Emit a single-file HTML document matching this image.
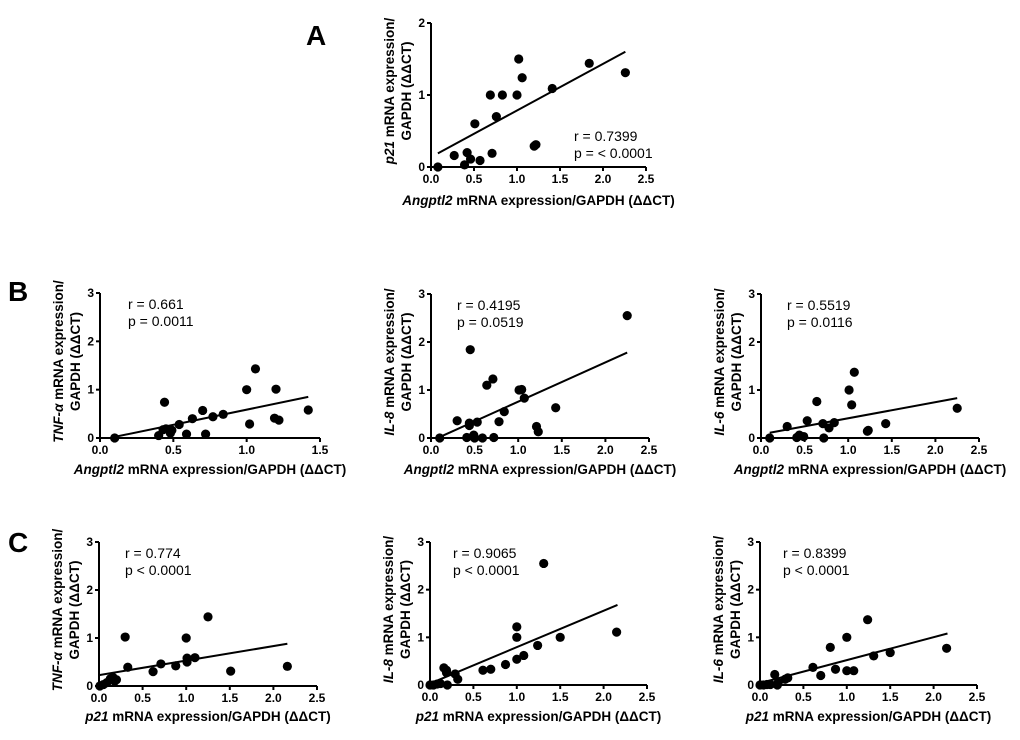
<!DOCTYPE html>
<html><head><meta charset="utf-8"><style>
body{margin:0;background:#fff;}
svg{display:block;font-family:"Liberation Sans",sans-serif;}
.tick{font-weight:bold;font-size:12px;}
.lbl{font-weight:bold;font-size:13.5px;}
.stat{font-size:14px;}
.letter{font-weight:bold;font-size:28px;}
</style></head><body>
<svg id="fig" width="1020" height="740" viewBox="0 0 1020 740">
<text class="letter" x="306" y="45">A</text>
<text class="letter" x="8" y="301">B</text>
<text class="letter" x="8" y="552">C</text>
</svg>
<script>
// Panel A: p21 vs Angptl2
const aX=[0.08,0.27,0.39,0.42,0.46,0.51,0.57,0.69,0.71,0.76,0.83,1.0,1.02,1.06,1.2,1.22,1.41,1.84,2.26];
const aY=[0,0.16,0.03,0.2,0.11,0.6,0.09,1.0,0.19,0.7,1.0,1.0,1.5,1.24,0.29,0.31,1.09,1.44,1.31];
const aFit=[[0.08,0.19],[2.26,1.6]];
// Panel B1: TNF-a vs Angptl2
const b1X=[0.1,0.4,0.44,0.43,0.45,0.48,0.49,0.54,0.59,0.63,0.7,0.72,0.77,0.84,1.0,1.02,1.06,1.2,1.19,1.22,1.42];
const b1Y=[0,0.05,0.74,0.17,0.19,0.1,0.16,0.28,0.08,0.4,0.57,0.08,0.44,0.49,1.0,0.29,1.43,1.01,0.41,0.37,0.58];
const b1Fit=[[0.08,0.01],[1.42,0.85]];
// Panel B2: IL-8 vs Angptl2
const b2X=[0.1,0.3,0.41,0.44,0.44,0.45,0.49,0.5,0.53,0.59,0.64,0.71,0.72,0.78,0.84,1.01,1.04,1.07,1.21,1.23,1.43,2.25];
const b2Y=[0,0.36,0.01,0.26,0.31,1.84,0.06,0,0.33,0,1.1,1.23,0.01,0.34,0.55,1.0,1.01,0.83,0.24,0.13,0.63,2.55];
const b2Fit=[[0.1,0.02],[2.25,1.78]];
// Panel B3: IL-6 vs Angptl2
const b3X=[0.1,0.3,0.41,0.44,0.49,0.53,0.64,0.71,0.72,0.78,0.84,1.01,1.04,1.07,1.22,1.23,1.43,2.25];
const b3Y=[0,0.24,0.01,0.06,0.03,0.36,0.76,0.3,0,0.21,0.32,1.0,0.69,1.37,0.14,0.16,0.3,0.62];
const b3Fit=[[0.1,0.11],[2.25,0.83]];
// Panel C1: TNF-a vs p21
const c1X=[0.01,0.05,0.09,0.13,0.16,0.2,0.18,0.3,0.33,0.62,0.71,0.88,1.0,1.01,1.01,1.1,1.25,1.51,2.16];
const c1Y=[0,0.03,0.07,0.15,0.18,0.13,0.1,1.02,0.39,0.3,0.46,0.42,1.0,0.58,0.5,0.59,1.44,0.31,0.41];
const c1Fit=[[0.01,0.23],[2.16,0.88]];
// Panel C2: IL-8 vs p21
const c2X=[0,0.04,0.08,0.12,0.16,0.19,0.2,0.19,0.29,0.32,0.61,0.7,0.87,1.0,1.0,1.0,1.08,1.24,1.31,1.5,2.15];
const c2Y=[0,0,0.02,0.03,0.36,0.31,0,0.26,0.23,0.12,0.31,0.33,0.43,1.22,1.0,0.54,0.62,0.83,2.55,1.0,1.11];
const c2Fit=[[0,0.03],[2.16,1.68]];
// Panel C3: IL-6 vs p21
const c3X=[0,0.04,0.08,0.12,0.17,0.2,0.21,0.29,0.32,0.61,0.7,0.81,0.87,1.0,1.0,1.08,1.24,1.31,1.5,2.15];
const c3Y=[0,0,0.01,0.01,0.22,0,0.05,0.12,0.15,0.37,0.2,0.79,0.33,1.0,0.3,0.3,1.37,0.61,0.68,0.77];
const c3Fit=[[0,0.04],[2.16,1.08]];

const xTicksA=["0.0","0.5","1.0","1.5","2.0","2.5"];
const xTicksB1=["0.0","0.5","1.0","1.5"];
const yTicks2=["0","1","2"];
const yTicks3=["0","1","2","3"];

const NS="http://www.w3.org/2000/svg";
const svg=document.getElementById('fig');
function mk(tag,attrs,parent){const e=document.createElementNS(NS,tag);for(const k in attrs)e.setAttribute(k,attrs[k]);(parent||svg).appendChild(e);return e;}

function panel(o){
  const g=mk('g',{});
  
  
  const xmax=parseFloat(o.xt[o.xt.length-1]), ymax=parseFloat(o.yt[o.yt.length-1]);
  const sx=v=>o.x0+(o.x1-o.x0)*v/xmax;
  const sy=v=>o.y0-(o.y0-o.y1)*v/ymax;
  const xa=mk('line',{x1:o.x0,y1:o.y0,x2:o.x1,y2:o.y0,stroke:'#000','stroke-width':2},g);
  
  
  const ya=mk('line',{x1:o.x0,y1:o.y0+1,x2:o.x0,y2:o.y1,stroke:'#000','stroke-width':2},g);
  
  
  o.xt.forEach(t=>{const x=sx(parseFloat(t));
    mk('line',{x1:x,y1:o.y0,x2:x,y2:o.y0+4,stroke:'#000','stroke-width':2},g);
    const tx=mk('text',{x:x,y:o.y0+16,'text-anchor':'middle',class:'tick'},g);tx.textContent=t;
    
    });
  o.yt.forEach(t=>{const y=sy(parseFloat(t));
    mk('line',{x1:o.x0-4,y1:y,x2:o.x0,y2:y,stroke:'#000','stroke-width':2},g);
    const tx=mk('text',{x:o.x0-6,y:y+4,'text-anchor':'end',class:'tick'},g);tx.textContent=t;
    
    });
  o.xs.forEach((v,i)=>{const c=mk('circle',{cx:sx(v),cy:sy(o.ys[i]),r:4.6,fill:'#000'},g);
    
    });
  const fl=mk('line',{x1:sx(o.fit[0][0]),y1:sy(o.fit[0][1]),x2:sx(o.fit[1][0]),y2:sy(o.fit[1][1]),stroke:'#000','stroke-width':2},g);
  
  
  const s1=mk('text',{x:o.sx,y:o.sy,class:'stat'},g);s1.textContent=o.r;
  
  
  const s2=mk('text',{x:o.sx,y:o.sy+17,class:'stat'},g);s2.textContent=o.p;
  
  
  const xt=mk('text',{x:(o.x0+o.x1)/2,y:o.y0+(o.xty||36),'text-anchor':'middle',class:'lbl'},g);
  xt.innerHTML='<tspan font-style="italic">'+o.xg+'</tspan> mRNA expression/GAPDH (ΔΔCT)';
  
  
  const cy=(o.y0+o.y1)/2-4;
  const y1t=mk('text',{transform:`translate(${o.x0-37},${cy}) rotate(-90)`,'text-anchor':'middle',class:'lbl'},g);
  y1t.innerHTML='<tspan font-style="italic">'+o.yg+'</tspan> mRNA expression/';
  
  
  const y2t=mk('text',{transform:`translate(${o.x0-20},${cy}) rotate(-90)`,'text-anchor':'middle',class:'lbl'},g);
  y2t.textContent='GAPDH  (ΔΔCT)';
  
  
}
panel({name:'panel-a',x0:431,x1:646,y0:167,y1:23,xt:xTicksA,yt:yTicks2,xs:aX,ys:aY,fit:aFit,r:'r = 0.7399',p:'p = < 0.0001',sx:574,sy:141,xg:'Angptl2',yg:'p21',xty:38});
panel({name:'panel-b1',x0:100,x1:320,y0:438,y1:293,xt:xTicksB1,yt:yTicks3,xs:b1X,ys:b1Y,fit:b1Fit,r:'r = 0.661',p:'p = 0.0011',sx:128,sy:309,xg:'Angptl2',yg:'TNF-α',xty:36});
panel({name:'panel-b2',x0:431,x1:649,y0:438,y1:294,xt:xTicksA,yt:yTicks3,xs:b2X,ys:b2Y,fit:b2Fit,r:'r = 0.4195',p:'p = 0.0519',sx:457,sy:310,xg:'Angptl2',yg:'IL-8',xty:36});
panel({name:'panel-b3',x0:761,x1:979,y0:438,y1:294,xt:xTicksA,yt:yTicks3,xs:b3X,ys:b3Y,fit:b3Fit,r:'r = 0.5519',p:'p = 0.0116',sx:787,sy:310,xg:'Angptl2',yg:'IL-6',xty:36});
panel({name:'panel-c1',x0:99,x1:317,y0:686,y1:542,xt:xTicksA,yt:yTicks3,xs:c1X,ys:c1Y,fit:c1Fit,r:'r = 0.774',p:'p < 0.0001',sx:125,sy:558,xg:'p21',yg:'TNF-α',xty:35});
panel({name:'panel-c2',x0:430,x1:647,y0:685,y1:542,xt:xTicksA,yt:yTicks3,xs:c2X,ys:c2Y,fit:c2Fit,r:'r = 0.9065',p:'p < 0.0001',sx:453,sy:558,xg:'p21',yg:'IL-8',xty:36});
panel({name:'panel-c3',x0:760,x1:977,y0:685,y1:542,xt:xTicksA,yt:yTicks3,xs:c3X,ys:c3Y,fit:c3Fit,r:'r = 0.8399',p:'p < 0.0001',sx:783,sy:558,xg:'p21',yg:'IL-6',xty:36});
</script>
</body></html>
